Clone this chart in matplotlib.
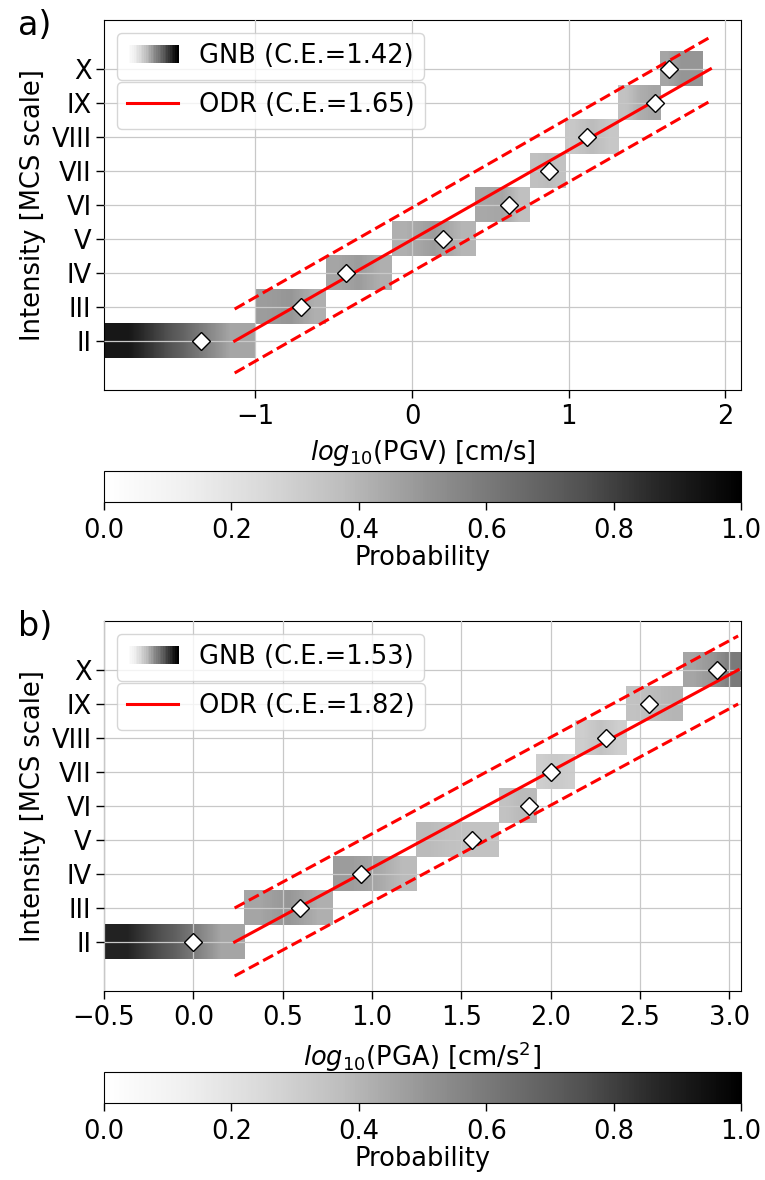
import numpy as np
import matplotlib
matplotlib.use("Agg")
import matplotlib.pyplot as plt
from matplotlib.legend_handler import HandlerBase
from matplotlib.patches import Rectangle
from matplotlib.lines import Line2D

plt.rcParams['font.family'] = ['DejaVu Sans']
plt.rcParams['font.size'] = 18.5
plt.rcParams['xtick.major.size'] = 5.5
plt.rcParams['ytick.major.size'] = 5.5
plt.rcParams['xtick.major.width'] = 1.0
plt.rcParams['ytick.major.width'] = 1.0
plt.rcParams['xtick.major.pad'] = 4.5

# ---------------- data ----------------
classes = ['II', 'III', 'IV', 'V', 'VI', 'VII', 'VIII', 'IX', 'X']
intensity = [2, 3, 4, 5, 6, 7, 8, 9, 10]

# panel a) PGV
pgv_edges = [-1.97, -1.0, -0.55, -0.13, 0.40, 0.75, 0.975, 1.315, 1.586, 1.855]
pgv_means = [-1.347, -0.708, -0.421, 0.196, 0.617, 0.875, 1.116, 1.551, 1.639]
pgv_prob_left = [0.92, 0.48, 0.45, 0.42, 0.44, 0.36, 0.33, 0.35, 0.45]
pgv_prob_mid = [0.70, 0.50, 0.48, 0.48, 0.45, 0.38, 0.38, 0.42, 0.50]
pgv_prob_right = [0.45, 0.42, 0.42, 0.40, 0.36, 0.35, 0.33, 0.45, 0.50]
pgv_odr_x = [-1.132, 1.905]
pgv_odr_y = [2, 10]
pgv_band = 0.94
pgv_xlim = (-1.966, 2.10)
pgv_xticks = [-1, 0, 1, 2]
pgv_ce = ('1.42', '1.65')

# panel b) PGA
pga_edges = [-0.5, 0.285, 0.779, 1.247, 1.708, 1.920, 2.136, 2.424, 2.739, 3.07]
pga_means = [0.0, 0.595, 0.941, 1.56, 1.878, 2.002, 2.308, 2.551, 2.932]
pga_prob_left = [0.88, 0.45, 0.48, 0.38, 0.35, 0.30, 0.30, 0.35, 0.45]
pga_prob_mid = [0.70, 0.50, 0.45, 0.35, 0.38, 0.32, 0.35, 0.38, 0.50]
pga_prob_right = [0.45, 0.42, 0.38, 0.35, 0.38, 0.30, 0.30, 0.40, 0.60]
pga_odr_x = [0.231, 3.049]
pga_odr_y = [2, 10]
pga_band = 1.0
pga_xlim = (-0.5, 3.065)
pga_xticks = [-0.5, 0.0, 0.5, 1.0, 1.5, 2.0, 2.5, 3.0]
pga_ce = ('1.53', '1.82')

cbar_ticks = [0.0, 0.2, 0.4, 0.6, 0.8, 1.0]

cmap = plt.get_cmap('Greys')


class HandlerGradient(HandlerBase):
    def create_artists(self, legend, orig_handle, xdescent, ydescent,
                       width, height, fontsize, trans):
        n = 30
        arts = []
        for i in range(n):
            r = Rectangle((-xdescent + i * width / n, -ydescent), width / n + 0.3, height,
                          facecolor=cmap(i / (n - 1)), edgecolor='none', transform=trans)
            arts.append(r)
        return arts


def draw_panel(ax, cax, edges, means, pl, pm, pr, odr_x, odr_y, band, xlim, xticks,
               ce, xlabel, letter):
    for k in range(len(intensity)):
        img = np.array([[pl[k], pm[k], pr[k]]])
        ax.imshow(img, cmap=cmap, vmin=0, vmax=1, aspect='auto',
                  interpolation='bilinear',
                  extent=[edges[k], edges[k + 1], intensity[k] - 0.5, intensity[k] + 0.5],
                  zorder=0)
    ax.plot(odr_x, odr_y, color='red', lw=2.2, zorder=3)
    ax.plot(odr_x, [y + band for y in odr_y], color='red', lw=2.2, ls='--', zorder=3)
    ax.plot(odr_x, [y - band for y in odr_y], color='red', lw=2.2, ls='--', zorder=3)
    ax.plot(means, intensity, ls='none', marker='D', ms=9, mfc='white',
            mec='black', mew=1.0, zorder=4)
    ax.set_xlim(*xlim)
    ax.set_xticks(xticks)
    ax.set_ylim(0.56, 11.44)
    ax.set_yticks(intensity)
    ax.set_yticklabels(classes)
    ax.grid(True, color='#c8c8c8', lw=0.9)
    ax.set_axisbelow(False)
    ax.set_xlabel(xlabel, labelpad=6)
    ax.set_ylabel('Intensity [MCS scale]', labelpad=4)

    grad_handle = Rectangle((0, 0), 1, 1)
    leg1 = ax.legend([grad_handle], [f'GNB (C.E.={ce[0]})'],
                     handler_map={Rectangle: HandlerGradient()},
                     loc='upper left', bbox_to_anchor=(0.02, 0.965),
                     borderaxespad=0, handlelength=2.0, fontsize=18.5)
    ax.add_artist(leg1)
    line_handle = Line2D([], [], color='red', lw=2.2)
    ax.legend([line_handle], [f'ODR (C.E.={ce[1]})'],
              loc='upper left', bbox_to_anchor=(0.02, 0.832),
              borderaxespad=0, handlelength=2.0, fontsize=18.5)

    sm = matplotlib.cm.ScalarMappable(cmap=cmap, norm=matplotlib.colors.Normalize(0, 1))
    cb = plt.colorbar(sm, cax=cax, orientation='horizontal')
    cb.set_ticks(cbar_ticks)
    cax.tick_params(axis='x', length=5.5, pad=6)
    cb.set_label('Probability', labelpad=1)
    cb.outline.set_linewidth(0.8)

    ax.text(-0.135, 0.985, letter, transform=ax.transAxes, fontsize=24,
            ha='left', va='center')


W, H = 765, 1180
fig = plt.figure(figsize=(W / 100, H / 100), dpi=100)
ax1 = fig.add_axes([104 / W, 1 - 390 / H, 637 / W, 370 / H])
cax1 = fig.add_axes([104 / W, 1 - 502 / H, 637 / W, 31 / H])
ax2 = fig.add_axes([104 / W, 1 - 991 / H, 637 / W, 370 / H])
cax2 = fig.add_axes([104 / W, 1 - 1103 / H, 637 / W, 31 / H])

draw_panel(ax1, cax1, pgv_edges, pgv_means, pgv_prob_left, pgv_prob_mid, pgv_prob_right,
           pgv_odr_x, pgv_odr_y, pgv_band, pgv_xlim, pgv_xticks, pgv_ce,
           r'$log_{10}$(PGV) [cm/s]', 'a)')
draw_panel(ax2, cax2, pga_edges, pga_means, pga_prob_left, pga_prob_mid, pga_prob_right,
           pga_odr_x, pga_odr_y, pga_band, pga_xlim, pga_xticks, pga_ce,
           r'$log_{10}$(PGA) [cm/s$^2$]', 'b)')

fig.savefig('out.png', dpi=100)
